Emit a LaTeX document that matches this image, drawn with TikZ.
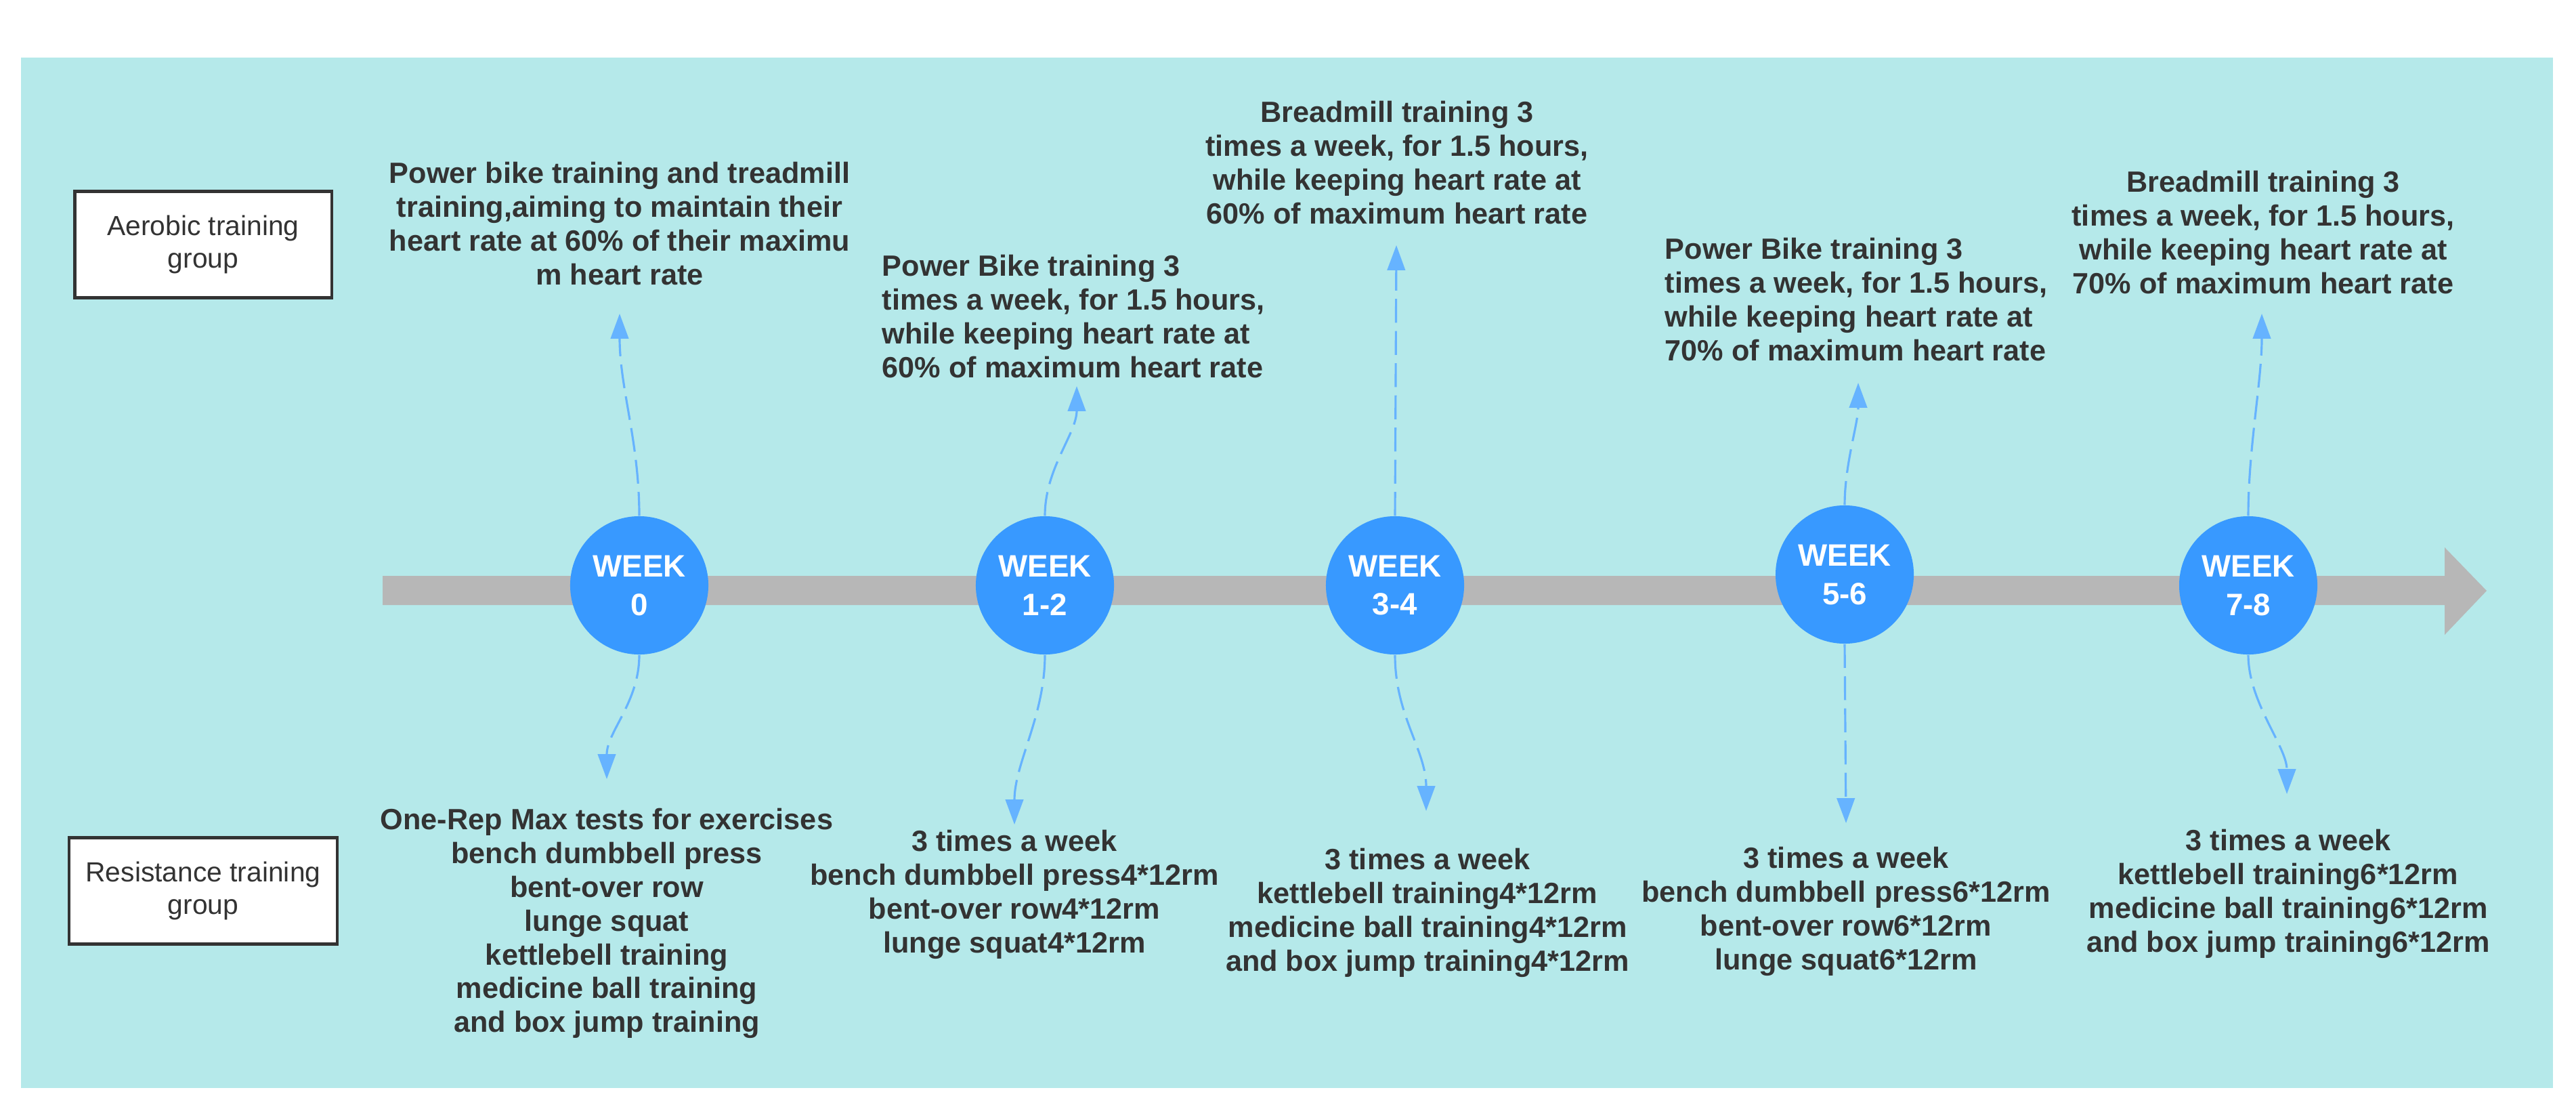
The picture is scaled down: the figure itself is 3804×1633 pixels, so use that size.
\documentclass[tikz,border=0pt]{standalone}
\usepackage{fontspec}
\setmainfont{Liberation Sans}
\usetikzlibrary{arrows.meta}
\definecolor{sea}{HTML}{B5E9EA}
\definecolor{bargray}{HTML}{B7B7B7}
\definecolor{dot}{HTML}{3899FF}
\definecolor{linkblue}{HTML}{66B3FF}
\definecolor{ink}{HTML}{333333}

\begin{document}
\begin{tikzpicture}[x=0.01cm, y=-0.01cm, >={Triangle[length=10.5pt,width=7.5pt]},
  week/.style={circle, fill=dot, minimum size=2.04cm, inner sep=0pt, text=white, align=center,
    font=\fontsize{13}{16.2}\selectfont\bfseries},
  plan/.style={text=ink, inner sep=0pt, font=\fontsize{12.3}{14.2}\selectfont\bfseries},
  group/.style={draw=ink, line width=1.2pt, fill=white, align=center, text=ink,
    minimum height=1.57cm, font=\fontsize{11.6}{13.7}\selectfont},
  link/.style={->, linkblue, line width=0.9pt, dash pattern=on 10pt off 3.5pt}]
  \useasboundingbox (0,0) rectangle (3804,1633);
  \fill[sea] (31,85) rectangle (3770,1606);
  \fill[bargray] (565,850) -- (3610,850) -- (3610,808) -- (3672,872) -- (3610,937)
    -- (3610,893) -- (565,893) -- cycle;

  \foreach \n/\x/\y/\t in {0/944/864/0, 1/1543/864/1-2, 2/2060/864/3-4, 3/2724/848/5-6, 4/3320/864/7-8}
    \node[week] (w\n) at (\x,\y) {WEEK\\\t};

  \node[group, minimum width=3.79cm] (aero) at (300,361) {Aerobic training\\group};
  \node[group, minimum width=3.95cm] (resi) at (300,1315) {Resistance training\\group};

  \node[plan, align=center] (a0) at (915,330) {Power bike training and treadmill\\training,aiming to maintain their\\heart rate at 60\% of their maximu\\m heart rate};
  \node[plan, align=left, anchor=west] (a1) at (1302,467) {Power Bike training 3\\times a week, for 1.5 hours,\\while keeping heart rate at\\60\% of maximum heart rate};
  \node[plan, align=center] (a2) at (2063,240) {Breadmill training 3\\times a week, for 1.5 hours,\\while keeping heart rate at\\60\% of maximum heart rate};
  \node[plan, align=left, anchor=west] (a3) at (2458,442) {Power Bike training 3\\times a week, for 1.5 hours,\\while keeping heart rate at\\70\% of maximum heart rate};
  \node[plan, align=center] (a4) at (3342,343) {Breadmill training 3\\times a week, for 1.5 hours,\\while keeping heart rate at\\70\% of maximum heart rate};

  \node[plan, align=center] (r0) at (896,1363) {One-Rep Max tests for exercises\\bench dumbbell press\\bent-over row\\lunge squat\\kettlebell training\\medicine ball training\\and box jump training};
  \node[plan, align=center] (r1) at (1498,1320) {3 times a week\\bench dumbbell press4*12rm\\bent-over row4*12rm\\lunge squat4*12rm};
  \node[plan, align=center] (r2) at (2108,1347) {3 times a week\\kettlebell training4*12rm\\medicine ball training4*12rm\\and box jump training4*12rm};
  \node[plan, align=center] (r3) at (2726,1345) {3 times a week\\bench dumbbell press6*12rm\\bent-over row6*12rm\\lunge squat6*12rm};
  \node[plan, align=center] (r4) at (3379,1319) {3 times a week\\kettlebell training6*12rm\\medicine ball training6*12rm\\and box jump training6*12rm};

  \coordinate (ta0) at (915,463);
  \coordinate (ta1) at (1590,570);
  \coordinate (ta2) at (2062,362);
  \coordinate (ta3) at (2744,565);
  \coordinate (ta4) at (3340,463);
  \coordinate (tr0) at (896,1150);
  \coordinate (tr1) at (1498,1217);
  \coordinate (tr2) at (2106,1197);
  \coordinate (tr3) at (2726,1215);
  \coordinate (tr4) at (3377,1172);

  \draw[link] (w0.north) .. controls +(0,-110) and +(0,110) .. (ta0);
  \draw[link] (w1.north) .. controls +(0,-70) and +(0,70) .. (ta1);
  \draw[link] (w2.north) -- (ta2);
  \draw[link] (w3.north) .. controls +(0,-60) and +(0,60) .. (ta3);
  \draw[link] (w4.north) .. controls +(0,-100) and +(0,100) .. (ta4);
  \draw[link] (w0.south) .. controls +(0,70) and +(0,-70) .. (tr0);
  \draw[link] (w1.south) .. controls +(0,90) and +(0,-90) .. (tr1);
  \draw[link] (w2.south) .. controls +(0,90) and +(0,-90) .. (tr2);
  \draw[link] (w3.south) -- (tr3);
  \draw[link] (w4.south) .. controls +(0,70) and +(0,-70) .. (tr4);
\end{tikzpicture}
\end{document}
